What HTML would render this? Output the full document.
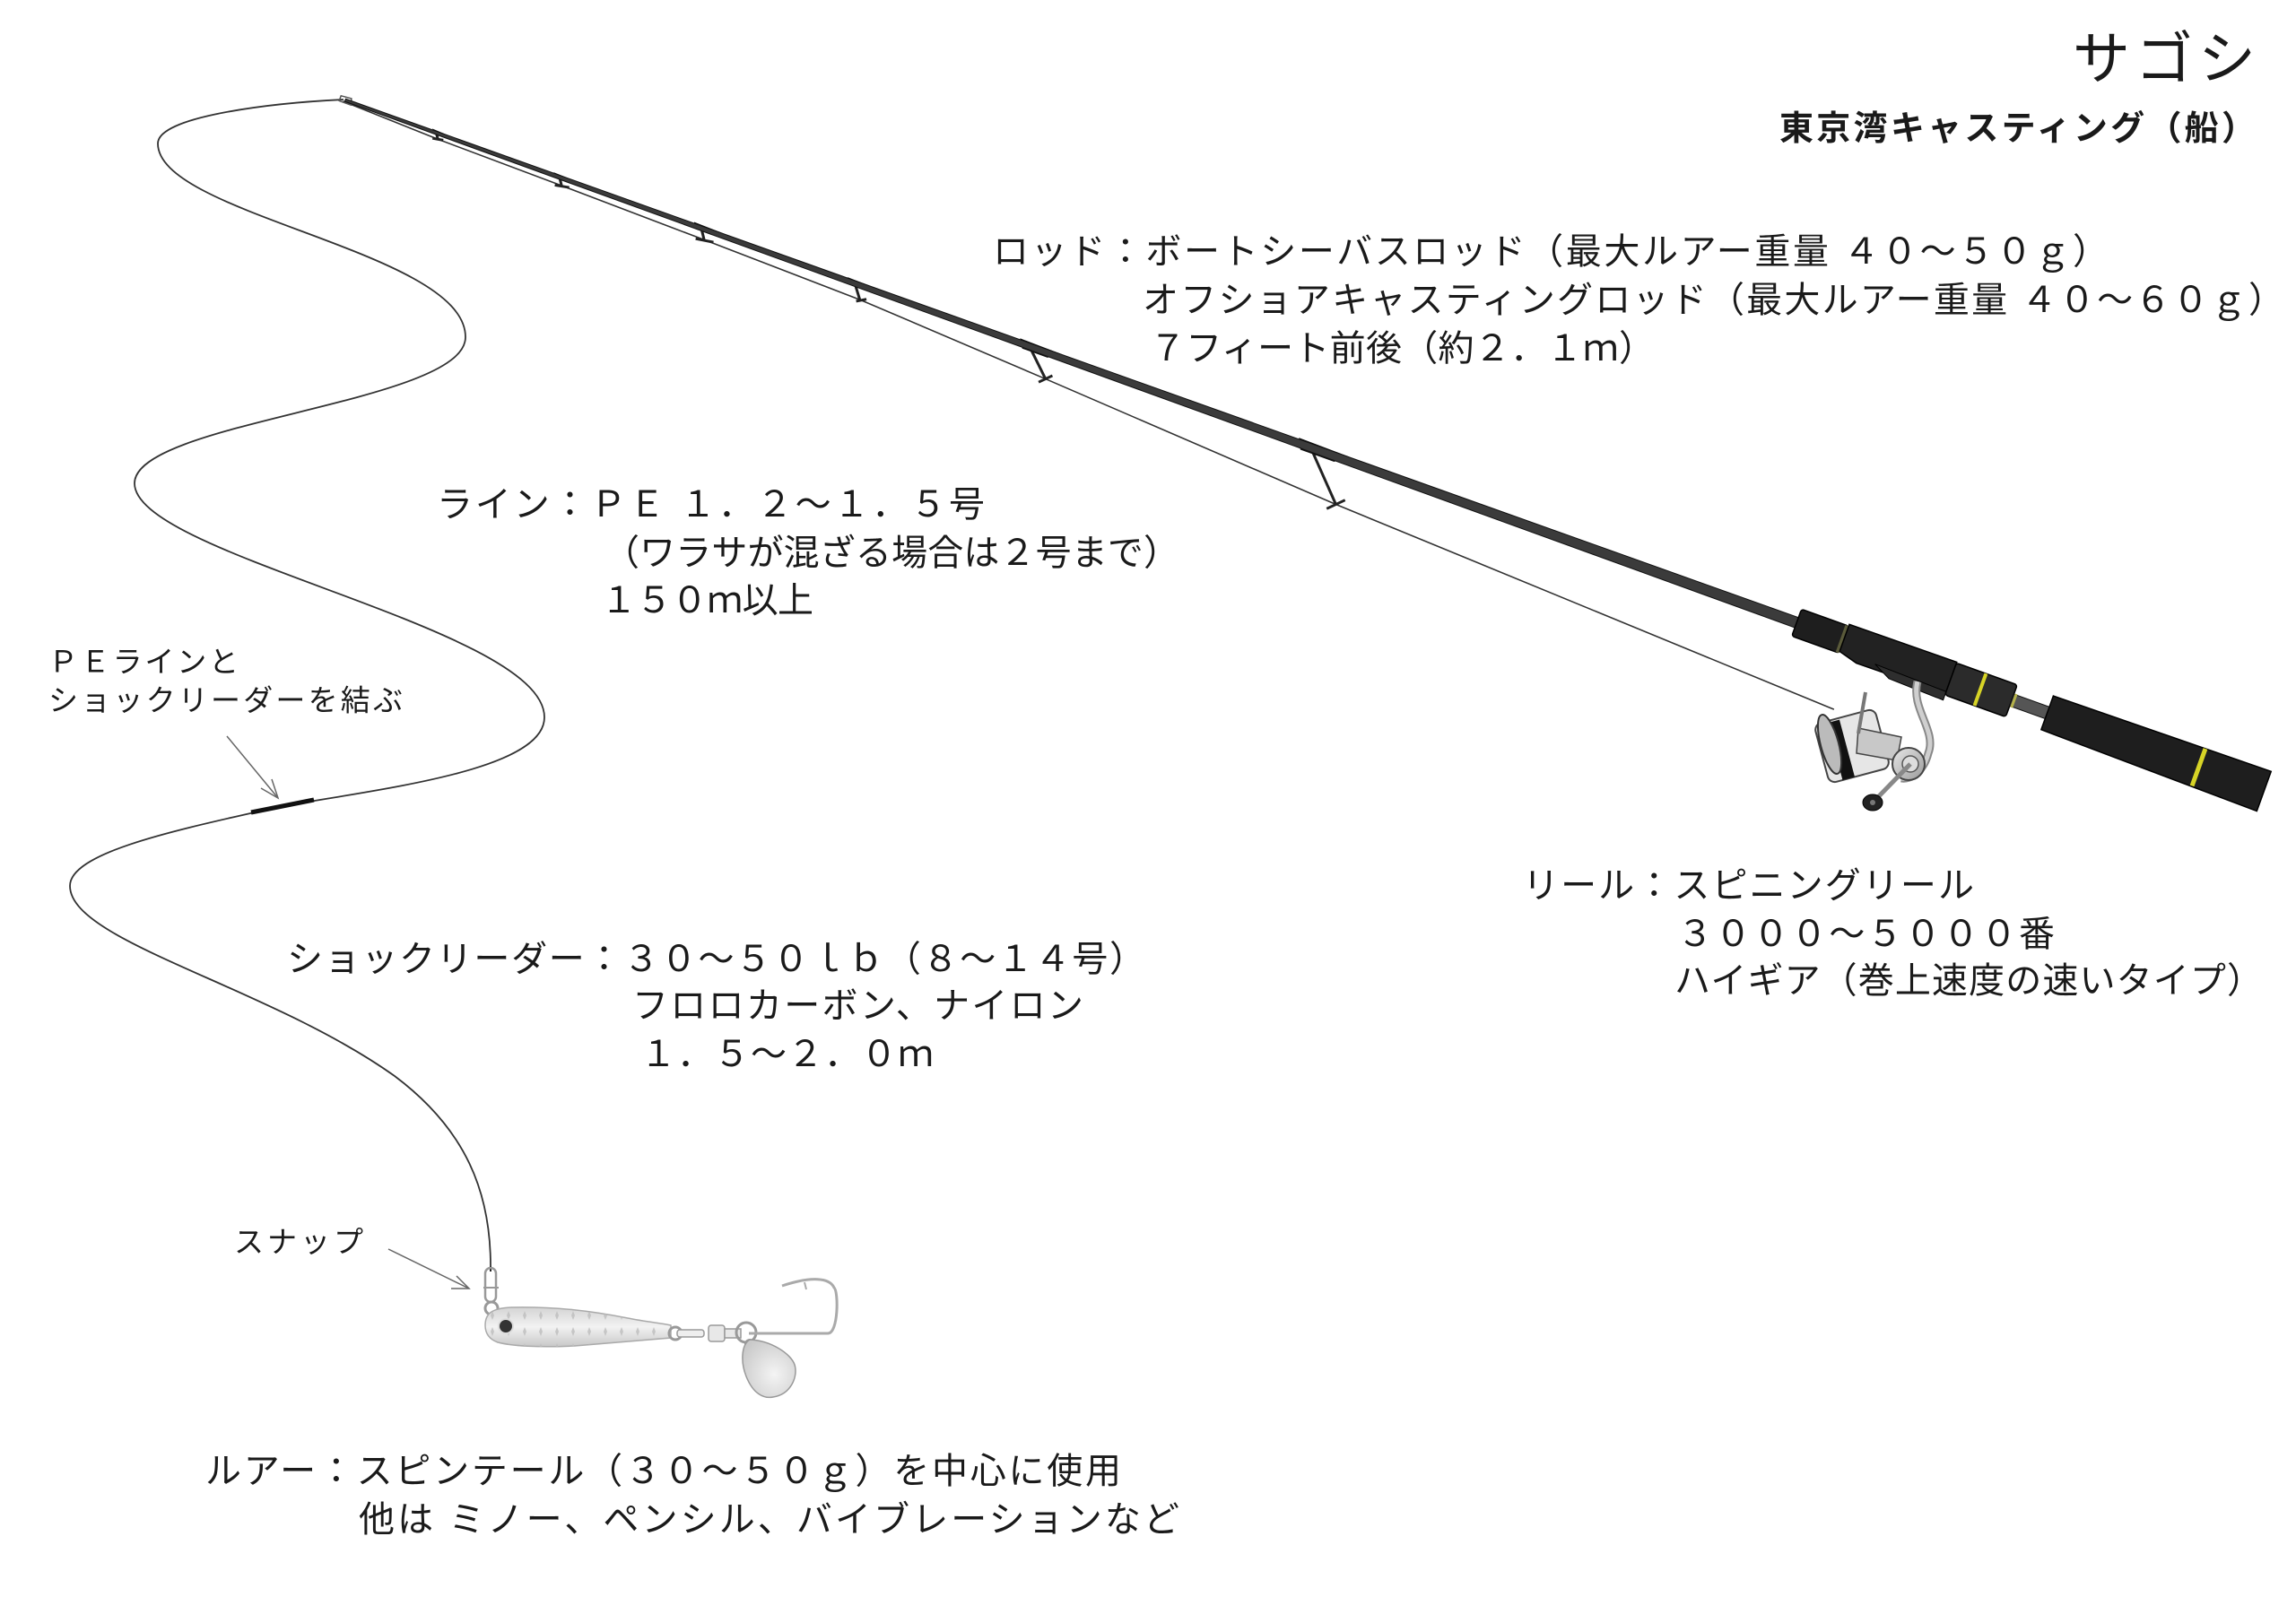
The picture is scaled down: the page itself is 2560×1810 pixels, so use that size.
<!DOCTYPE html>
<html><head><meta charset="utf-8"><style>
html,body{margin:0;padding:0;background:#fff;}
svg{display:block;}
text{font-family:"Liberation Sans","Noto Sans CJK JP",sans-serif;fill:#1a1a1a;}
</style></head><body>
<svg width="2560" height="1810" viewBox="0 0 2560 1810" xmlns="http://www.w3.org/2000/svg">
<defs>
<linearGradient id="bodyg" x1="0" y1="0" x2="0" y2="1">
<stop offset="0" stop-color="#d4d4d4"/><stop offset="0.5" stop-color="#f2f2f2"/><stop offset="1" stop-color="#c8c8c8"/>
</linearGradient>
<pattern id="dots" width="18" height="18" patternUnits="userSpaceOnUse">
<path d="M9,4 L11,9 L9,14 L7,9 Z" fill="#bdbdbd"/>
</pattern>
<radialGradient id="bladeg" cx="0.6" cy="0.6" r="0.7">
<stop offset="0" stop-color="#f4f4f4"/><stop offset="1" stop-color="#c9c9c9"/>
</radialGradient>
<linearGradient id="reelg" x1="0" y1="0" x2="1" y2="1">
<stop offset="0" stop-color="#e8e8e8"/><stop offset="1" stop-color="#9a9a9a"/>
</linearGradient>
</defs>

<path d="M383,111 C300,115 176,130 176,160 C176,240 519,280 519,376 C519,450 150,470 150,539 C150,620 607,700 607,800 C607,860 420,880 310,900 C200,925 78,950 78,988 C78,1050 300,1100 440,1200 C520,1260 547,1330 547,1412" fill="none" stroke="#333" stroke-width="1.8"/>
<path d="M280,906 L350,892" stroke="#111" stroke-width="5" fill="none"/>

<g stroke="#666" stroke-width="1.5" fill="none">
<path d="M253,821 L310,890"/><path d="M291,879 L310,890 L303,869"/>
<path d="M433,1393 L523,1437"/><path d="M503,1437 L523,1437 L509,1423"/>
</g>

<g transform="translate(383,111) rotate(19.8)">
<path d="M0,2 L114,6 L262,8 L432,11 L618,15 L842,28 L1194,50 L1794,77" fill="none" stroke="#333" stroke-width="1.6"/>
<g stroke="#222" stroke-width="3" fill="none">
<path d="M110,0 L114,6"/><path d="M108,7 L120,5"/>
<path d="M256,0 L262,9"/><path d="M254,10 L270,7"/>
<path d="M424,0 L432,12"/><path d="M422,13 L442,10"/>
<path d="M606,0 L618,16"/><path d="M614,18 L624,12"/>
<path d="M815,2 L842,28"/><path d="M836,34 L848,22"/>
<path d="M1150,4 L1194,50"/><path d="M1186,58 L1202,42"/>
</g>
<g fill="#111">
<path d="M104,-3 L124,-2 L118,1 L108,1 Z"/>
<path d="M248,-3 L276,-2 L268,2 L252,2 Z"/>
<path d="M414,-4 L448,-3 L438,3 L418,3 Z"/>
<path d="M596,-4 L636,-3 L624,3 L600,3 Z"/>
<path d="M800,-5 L850,-4 L836,5 L806,5 Z"/>
<path d="M1130,-6 L1190,-5 L1176,6 L1136,6 Z"/>
</g>
<path d="M-4,-3 L8,-4 L10,3 L-4,3 Z" fill="none" stroke="#555" stroke-width="1.5"/>
<path d="M2,-1.5 L1722,-6 L1722,6 L2,1.5 Z" fill="#3b3b3b" stroke="#111" stroke-width="1"/>
<rect x="1722" y="-16" width="56" height="32" rx="3" fill="#1e1e1e" stroke="#000" stroke-width="1.5"/>
<rect x="1774" y="-16" width="4" height="32" fill="#5a5a3a"/>
<path d="M1778,-18 L1905,-19 L1905,19 L1800,20 L1778,14 Z" fill="#222" stroke="#000" stroke-width="1.5"/>
<path d="M1820,14 L1905,16 L1905,26 L1840,24 Z" fill="#2e2e2e" stroke="#000" stroke-width="1"/>
<rect x="1905" y="-18" width="72" height="38" rx="3" fill="#2b2b2b" stroke="#000" stroke-width="1.5"/>
<rect x="1938" y="-18" width="4" height="38" fill="#d7d426"/>
<rect x="1977" y="-7" width="42" height="14" fill="#555" stroke="#111" stroke-width="1"/>
<rect x="1978" y="-8" width="3" height="16" fill="#b5b24a"/>
<path d="M2019,-20 L2276,-23 L2276,24 L2019,20 Z" fill="#1e1e1e" stroke="#000" stroke-width="1.5"/>
<rect x="2196" y="-22" width="5" height="44" fill="#d7d426"/>
</g>

<g>
<path d="M2138,760 C2130,790 2160,815 2150,840 C2145,860 2130,870 2120,868" fill="none" stroke="#888" stroke-width="9"/>
<path d="M2138,760 C2130,790 2160,815 2150,840 C2145,860 2130,870 2120,868" fill="none" stroke="#cfcfcf" stroke-width="5"/>
<rect x="2030" y="798" width="70" height="68" rx="8" transform="rotate(-15 2065 832)" fill="#e6e6e6" stroke="#444" stroke-width="2"/>
<rect x="2045" y="800" width="14" height="66" transform="rotate(-15 2065 832)" fill="#111"/>
<ellipse cx="2040" cy="830" rx="10" ry="34" transform="rotate(-15 2040 830)" fill="#bbb" stroke="#333" stroke-width="2"/>
<path d="M2072,812 L2120,822 L2115,848 L2070,840 Z" fill="#c8c8c8" stroke="#444" stroke-width="1.5"/>
<path d="M2080,772 L2072,818" stroke="#777" stroke-width="4"/>
<circle cx="2128" cy="852" r="18" fill="url(#reelg)" stroke="#444" stroke-width="2"/>
<circle cx="2130" cy="852" r="9" fill="#ddd" stroke="#555" stroke-width="1.5"/>
<path d="M2130,852 L2090,893" stroke="#888" stroke-width="5"/>
<ellipse cx="2088" cy="895" rx="11" ry="9" fill="#222" stroke="#000"/>
<circle cx="2088" cy="895" r="3" fill="#777"/>
</g>

<g>
<path d="M547,1412 L547,1418" stroke="#222" stroke-width="2"/>
<rect x="541" y="1414" width="12" height="38" rx="6" fill="none" stroke="#999" stroke-width="2.5"/>
<path d="M539,1436 L556,1436" stroke="#999" stroke-width="2"/>
<circle cx="548" cy="1459" r="7" fill="none" stroke="#999" stroke-width="3"/>
<path d="M541,1478 C541,1465 548,1459 570,1458 C620,1457 660,1462 700,1470 C720,1474 740,1476 748,1478 L748,1492 C720,1494 680,1498 640,1501 C600,1503 570,1501 555,1497 C544,1493 541,1485 541,1478 Z" fill="url(#bodyg)" stroke="#aaa" stroke-width="1.5"/>
<path d="M541,1478 C541,1465 548,1459 570,1458 C620,1457 660,1462 700,1470 C720,1474 740,1476 748,1478 L748,1492 C720,1494 680,1498 640,1501 C600,1503 570,1501 555,1497 C544,1493 541,1485 541,1478 Z" fill="url(#dots)" opacity="0.8"/>
<circle cx="564" cy="1479" r="8" fill="#333" stroke="#ddd" stroke-width="2"/>
<circle cx="753" cy="1487" r="7" fill="none" stroke="#999" stroke-width="3"/>
<rect x="755" y="1483" width="30" height="8" rx="3" fill="#eee" stroke="#999" stroke-width="1.5"/>
<rect x="790" y="1478" width="18" height="18" rx="3" fill="#e8e8e8" stroke="#999" stroke-width="1.5"/>
<rect x="808" y="1482" width="18" height="10" fill="#e8e8e8" stroke="#999" stroke-width="1.5"/>
<circle cx="832" cy="1486" r="11" fill="none" stroke="#999" stroke-width="3"/>
<path d="M835,1487 L923,1487 C935,1487 935,1440 930,1436 C925,1425 905,1423 872,1434" fill="none" stroke="#aaa" stroke-width="3"/>
<path d="M897,1430 L899,1438" stroke="#aaa" stroke-width="2"/>
<circle cx="836" cy="1499" r="5" fill="none" stroke="#999" stroke-width="2"/>
<path d="M836,1494 C826,1500 826,1520 832,1535 C840,1555 852,1560 862,1558 C882,1555 890,1535 886,1522 C882,1510 860,1495 836,1494 Z" fill="url(#bladeg)" stroke="#999" stroke-width="1.5"/>
</g>

<text x="2311" y="66" font-size="64" dominant-baseline="central" textLength="204" lengthAdjust="spacing">サゴシ</text>
<text x="1984" y="144" font-size="38" font-weight="600" dominant-baseline="central" textLength="531" lengthAdjust="spacing">東京湾キャスティング（船）</text>

<g font-size="40">
<text x="1107" y="281" dominant-baseline="central" textLength="1244" lengthAdjust="spacing">ロッド：ボートシーバスロッド（最大ルアー重量 ４０～５０ｇ）</text>
<text x="1274" y="335" dominant-baseline="central" textLength="1273" lengthAdjust="spacing">オフショアキャスティングロッド（最大ルアー重量 ４０～６０ｇ）</text>
<text x="1282" y="389" dominant-baseline="central" textLength="563" lengthAdjust="spacing">７フィート前後（約２．１ｍ）</text>

<text x="487" y="563" dominant-baseline="central" textLength="611" lengthAdjust="spacing">ライン：ＰＥ １．２～１．５号</text>
<text x="673" y="617" dominant-baseline="central" textLength="642" lengthAdjust="spacing">（ワラサが混ざる場合は２号まで）</text>
<text x="670" y="670" dominant-baseline="central" textLength="237" lengthAdjust="spacing">１５０ｍ以上</text>

<text x="320" y="1070" dominant-baseline="central" textLength="957" lengthAdjust="spacing">ショックリーダー：３０～５０ｌｂ（８～１４号）</text>
<text x="705" y="1122" dominant-baseline="central" textLength="503" lengthAdjust="spacing">フロロカーボン、ナイロン</text>
<text x="714" y="1176" dominant-baseline="central" textLength="327" lengthAdjust="spacing">１．５～２．０ｍ</text>

<text x="229" y="1641" dominant-baseline="central" textLength="1021" lengthAdjust="spacing">ルアー：スピンテール（３０～５０ｇ）を中心に使用</text>
<text x="400" y="1695" dominant-baseline="central" textLength="915" lengthAdjust="spacing">他は ミノー、ペンシル、バイブレーションなど</text>

<text x="1698" y="988" dominant-baseline="central" textLength="503" lengthAdjust="spacing">リール：スピニングリール</text>
<text x="1870" y="1042" dominant-baseline="central" textLength="421" lengthAdjust="spacing">３０００～５０００番</text>
<text x="1867" y="1094" dominant-baseline="central" textLength="656" lengthAdjust="spacing">ハイギア（巻上速度の速いタイプ）</text>
</g>

<g font-size="33">
<text x="54" y="738" dominant-baseline="central" textLength="212" lengthAdjust="spacing">ＰＥラインと</text>
<text x="54" y="781" dominant-baseline="central" textLength="395" lengthAdjust="spacing">ショックリーダーを結ぶ</text>
<text x="261" y="1385" dominant-baseline="central" textLength="144" lengthAdjust="spacing">スナップ</text>
</g>
</svg>
</body></html>
